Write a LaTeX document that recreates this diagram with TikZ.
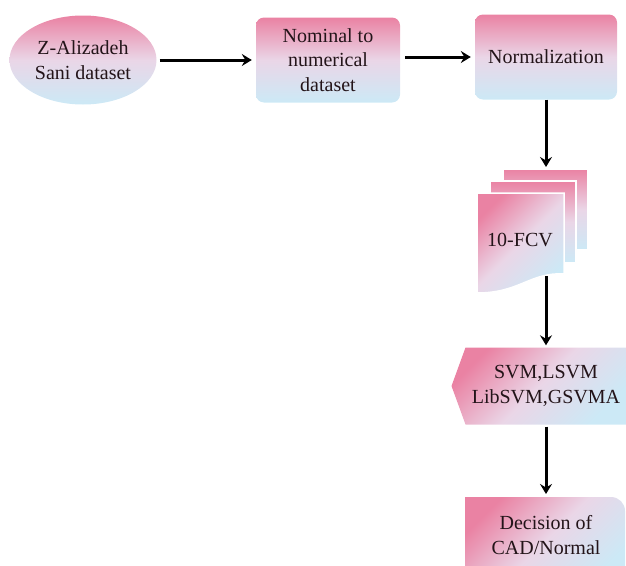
\documentclass[tikz,border=0pt]{standalone}
\usepackage{fontspec}
\setmainfont{Liberation Serif}
\usetikzlibrary{shapes.geometric,shapes.symbols,arrows.meta}
\definecolor{pk}{RGB}{234,130,163}
\definecolor{lav}{RGB}{234,214,231}
\definecolor{lb}{RGB}{204,233,246}
\definecolor{ink}{RGB}{35,20,25}
\begin{document}
\begin{tikzpicture}[x=1pt,y=-1pt,
  txt/.style={font=\fontsize{20}{24.5}\selectfont, text=ink, align=center, inner sep=0pt},
  vgrad/.style={top color=pk, bottom color=lb, middle color=lav},
  dgrad/.style={top color=pk, bottom color=lb, middle color=lav, shading angle=45},
  conn/.style={line width=3pt, -{Stealth[length=10pt,width=12pt,inset=3.5pt]}}]
\useasboundingbox (0,0) rectangle (626,565);
% ellipse
\node[ellipse, vgrad, minimum width=147pt, minimum height=89pt, txt] (src) at (83,60) {Z-Alizadeh\\Sani dataset};
% box 2
\node[rectangle, rounded corners=8pt, vgrad, minimum width=144pt, minimum height=85pt, txt] (nom) at (328,60) {Nominal to\\numerical\\dataset};
% box 3
\node[rectangle, rounded corners=8pt, vgrad, minimum width=142pt, minimum height=85pt, txt] (norm) at (546,57) {Normalization};
% stacked documents
\shade[vgrad, draw=white, line width=1.5pt] (503,169) rectangle (588,250);
\shade[vgrad, draw=white, line width=1.5pt] (490,181) rectangle (576,263);
\shade[dgrad, draw=white, line width=1.5pt] (477,193) -- (564,193) -- (564,274)
  .. controls (530,272) and (520,293) .. (477,293) -- cycle;
\node[txt] (fcv) at (520,240) {10-FCV};
\coordinate (fcvtop) at (546,167);
\coordinate (fcvbot) at (546,276);
% classifier shape
\node[signal, signal to=west, signal pointer angle=140, dgrad, minimum width=175pt, minimum height=77pt, txt] (svm) at (546,386) {SVM,LSVM\\LibSVM,GSVMA};
% decision box
\shade[dgrad] (465,585) -- (465,497) [rounded corners=14pt] -- (625,497) -- (625,585) -- cycle;
\node[txt] (dec) at (546,535) {Decision of\\CAD/Normal};
\coordinate (dectop) at (546,494);
% connectors
\draw[conn, shorten <=3pt, shorten >=4pt] (src.east) -- (nom.west);
\draw[conn, shorten <=5pt, shorten >=4pt] (nom.east |- norm.west) -- (norm.west);
\draw[conn] (norm.south -| fcvtop) -- (fcvtop);
\draw[conn, shorten >=2pt] (fcvbot) -- (fcvbot |- svm.north);
\draw[conn, shorten <=2pt] (fcvbot |- svm.south) -- (dectop);
\end{tikzpicture}
\end{document}
